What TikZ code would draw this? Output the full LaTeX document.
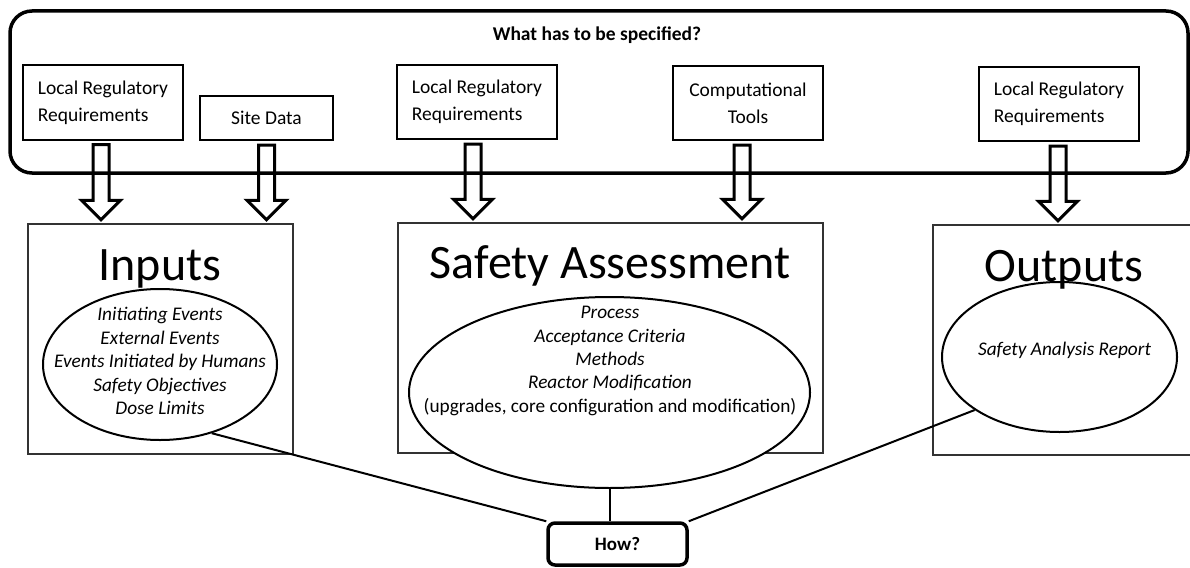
\documentclass[tikz,border=0pt]{standalone}
\usepackage{fontspec}
\setmainfont{Carlito}
\usetikzlibrary{calc,shapes.geometric}

% hollow block arrow from the bottom of #1 down to the top of #2, shifted by #3
\newcommand{\hollowarrow}[3]{%
  \draw[blockarrow] let \p1=($(#1.south)+(#3,0)$), \p2=(#2.north) in
    ({\x1-8pt},{\y1-4pt}) -- ({\x1-8pt},{\y2+23pt}) -- ({\x1-19.5pt},{\y2+23pt})
    -- ({\x1},{\y2+3.5pt}) -- ({\x1+19.5pt},{\y2+23pt}) -- ({\x1+8pt},{\y2+23pt})
    -- ({\x1+8pt},{\y1-4pt}) -- cycle;}

\begin{document}
\begin{tikzpicture}[x=1pt, y=-1pt,
  specframe/.style={draw, line width=3.5pt, rounded corners=22pt},
  smallbox/.style={draw, line width=2pt, minimum height=74pt, inner sep=0pt,
    font=\fontsize{19.5}{27}\selectfont},
  bigbox/.style={draw=black!80, line width=1.3pt, minimum height=230pt},
  bigtitle/.style={anchor=base, font=\fontsize{48}{58}\selectfont},
  ellbox/.style={draw, ellipse, fill=white, line width=2pt, inner sep=0pt},
  itemlist/.style={align=center, font=\fontsize{19.3}{23.4}\selectfont\itshape},
  howbox/.style={draw, line width=3.5pt, rounded corners=7pt,
    font=\fontsize{19}{23}\selectfont\bfseries},
  blockarrow/.style={line width=3pt},
  link/.style={line width=2pt},
]
  \useasboundingbox (0,0) rectangle (1190,567);
  \clip (0,0) rectangle (1190,567);

  % What has to be specified?
  \node[specframe, minimum width=1178pt, minimum height=162pt] (spec) at (599,92) {};
  \node[anchor=base, font=\fontsize{19.5}{24}\selectfont\bfseries] (what) at (597,41)
    {What has to be specified?};

  % Requirement boxes
  \node[smallbox, minimum width=160pt, align=left] (lrA) at (103,102.5)
    {Local Regulatory\\Requirements};
  \node[smallbox, minimum width=133pt, minimum height=44pt] (site) at (266.5,118) {Site Data};
  \node[smallbox, minimum width=160pt, align=left] (lrB) at (477,102)
    {Local Regulatory\\Requirements};
  \node[smallbox, minimum width=150pt, align=center] (tools) at (748,103)
    {Computational\\Tools};
  \node[smallbox, minimum width=160pt, align=left] (lrC) at (1059,104)
    {Local Regulatory\\Requirements};

  % Main blocks
  \node[bigbox, minimum width=265pt] (inBox) at (160.5,339) {};
  \node[bigbox, minimum width=425pt] (saBox) at (610.5,338) {};
  \node[bigbox, minimum width=263pt] (outBox) at (1064.5,340) {};

  % Arrows into the blocks
  \foreach \src/\dst/\dx in {lrA/inBox/-2, site/inBox/0, lrB/saBox/-4,
                             tools/saBox/-6, lrC/outBox/-1} {
    \hollowarrow{\src}{\dst}{\dx}
  }

  % How?
  \node[howbox, minimum width=139pt, minimum height=42pt] (how) at (617.5,544) {How?};

  % Ellipses
  \node[ellbox, minimum width=234pt, minimum height=151pt] (inEll) at (160,364.5) {};
  \node[ellbox, minimum width=401pt, minimum height=191pt] (saEll) at (609.5,392.5) {};
  \node[ellbox, minimum width=235pt, minimum height=150pt] (outEll) at (1059.5,357) {};

  \draw[link] (inEll.-53) -- (how.north west);
  \draw[link] (saEll.south) -- (saEll.south |- how.north);
  \draw[link] (outEll.212) -- (how.north east);

  % Block titles
  \node[bigtitle] (inTitle) at (160,280) {Inputs};
  \node[bigtitle] (saTitle) at (610,278) {Safety Assessment};
  \node[bigtitle] (outTitle) at (1064,281) {Outputs};

  % Contents
  \node[itemlist] (inList) at (160,361)
    {Initiating Events\\External Events\\Events Initiated by Humans\\Safety Objectives\\Dose Limits};
  \node[itemlist] (saList) at (610,361)
    {Process\\Acceptance Criteria\\Methods\\Reactor Modification\\\upshape(upgrades, core configuration and modification)};
  \node[itemlist, anchor=base] (outList) at (1064.5,355) {Safety Analysis Report};
\end{tikzpicture}
\end{document}
